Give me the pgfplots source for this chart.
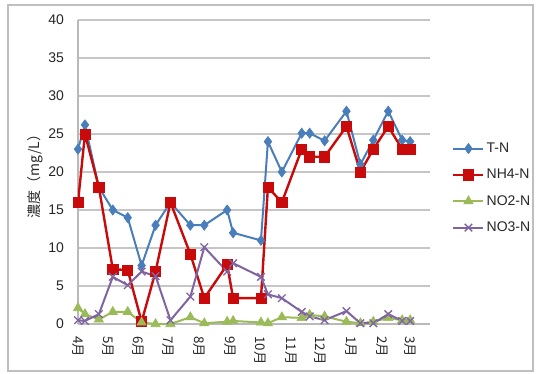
\documentclass[border=0pt]{standalone}
\usepackage{fontspec}
\setmainfont{Liberation Sans}
\newfontfamily\jp{Noto Sans CJK JP}
\usepackage{pgfplots}
\usepackage{pgfplotstable}
\pgfplotsset{compat=1.18}
\definecolor{cTN}{RGB}{74,126,187}
\definecolor{cNH}{RGB}{200,10,10}
\definecolor{cNOb}{RGB}{155,187,89}
\definecolor{cNOc}{RGB}{128,100,162}

% x = days since 1 April
\pgfplotstableread{
x TN NH4 NO2 NO3
0 23.0 16.0 2.1 0.5
7 26.2 25.0 1.3 0.4
21 18.0 18.0 0.6 1.3
35 15.0 7.2 1.6 6.2
50 14.0 7.1 1.6 5.1
64 7.7 0.3 0.2 6.9
78 13.0 6.9 0.0 6.3
93 16.0 16.0 0.0 0.5
113 13.0 9.2 0.9 3.6
127 13.0 3.4 0.1 10.1
150 15.0 7.8 0.3 6.9
156 12.0 3.4 0.4 8.0
184 11.0 3.4 0.2 6.2
191 24.0 18.0 0.1 3.9
205 20.0 16.0 0.9 3.4
225 25.1 23.0 0.8 1.6
233 25.1 22.0 1.2 1.0
248 24.1 22.0 1.0 0.5
270 28.0 26.0 0.3 1.7
284 21.0 20.0 0.1 0.1
297 24.2 23.0 0.3 0.1
312 28.0 26.0 0.8 1.3
326 24.2 23.0 0.5 0.4
334 24.0 23.0 0.5 0.4
}\data

\begin{document}
\begin{tikzpicture}
\begin{axis}[
  scale only axis, width=264pt, height=228pt,
  xmin=0, xmax=354, ymin=0, ymax=40,
  ytick={0,5,...,40},
  xtick={0,30,61,91,122,153,183,214,244,275,306,334},
  xticklabels={4月,5月,6月,7月,8月,9月,10月,11月,12月,1月,2月,3月},
  ymajorgrids, grid style={gray!45, line width=0.8pt},
  axis x line*=bottom, axis y line*=left,
  axis line style={-, gray!55, line width=0.8pt},
  major tick length=0pt,
  /pgf/number format/assume math mode=true,
  yticklabel style={font=\fontsize{10.5}{12}\selectfont, color=black!85, xshift=-7pt},
  xticklabel style={font=\jp\fontsize{10}{11}\selectfont, rotate=-90, anchor=west, inner xsep=9pt, color=black!85},
  ylabel={\jp 濃度（mg/L）},
  ylabel style={at={(axis description cs:-0.122,0.497)}, anchor=center, font=\fontsize{10.5}{12}\selectfont, color=black!85},
  legend style={at={(1.0625,0.447)}, anchor=west, draw=none, fill=none, inner sep=0pt,
    font=\fontsize{10.5}{12}\selectfont, row sep=7pt, text=black!85,
    nodes={inner xsep=1.5pt}},
  legend cell align=left,
  legend image code/.code={\draw[mark repeat=2,mark phase=2,#1] plot coordinates {(0pt,0pt) (11.25pt,0pt) (22.5pt,0pt)};},
]
\addplot[color=cTN, line width=1.5pt, mark=diamond*, mark size=3.8pt, mark options={solid, line width=0.5pt}] table[x=x,y=TN] {\data};
\addlegendentry{T-N}
\addplot[color=cNH, line width=1.8pt, mark=square*, mark size=3.8pt, mark options={solid, line width=0.5pt}] table[x=x,y=NH4] {\data};
\addlegendentry{NH4-N}
\addplot[color=cNOb, line width=1.5pt, mark=triangle*, mark size=4pt, mark options={solid, line width=0.5pt}] table[x=x,y=NO2] {\data};
\addlegendentry{NO2-N}
\addplot[color=cNOc, line width=1.5pt, mark=x, mark size=4pt, mark options={solid, line width=1pt}] table[x=x,y=NO3] {\data};
\addlegendentry{NO3-N}
\end{axis}
\draw[gray!50, line width=0.8pt] (-52.5pt,-35.25pt) rectangle (341.25pt,239.25pt);
\pgfresetboundingbox
\path (-58.5pt,-37.5pt) rectangle (345pt,243pt);
\end{tikzpicture}
\end{document}
